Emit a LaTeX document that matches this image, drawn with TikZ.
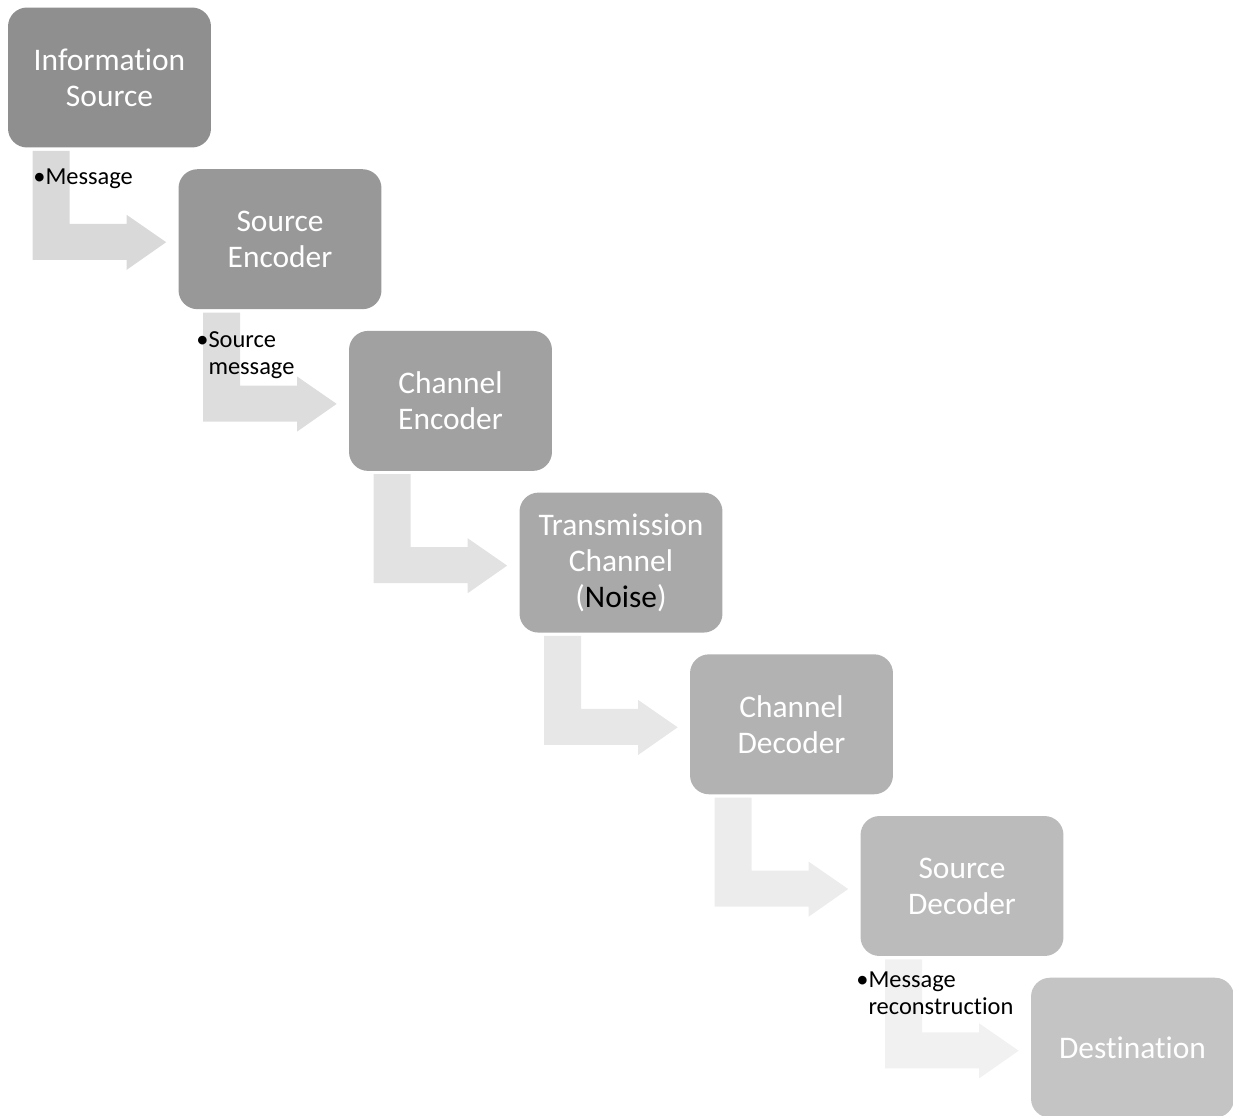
\documentclass[tikz,border=0pt]{standalone}
\usepackage{fontspec}
\setmainfont{Carlito}[Ligatures=NoCommon]
\usetikzlibrary{calc}

\definecolor{boxA}{RGB}{143,143,143}
\definecolor{boxB}{RGB}{152,152,152}
\definecolor{boxC}{RGB}{161,161,161}
\definecolor{boxD}{RGB}{169,169,169}
\definecolor{boxE}{RGB}{178,178,178}
\definecolor{boxF}{RGB}{187,187,187}
\definecolor{boxG}{RGB}{196,196,196}
\definecolor{arrA}{RGB}{217,217,217}
\definecolor{arrB}{RGB}{221,221,221}
\definecolor{arrC}{RGB}{226,226,226}
\definecolor{arrD}{RGB}{231,231,231}
\definecolor{arrE}{RGB}{236,236,236}
\definecolor{arrF}{RGB}{241,241,241}

\tikzset{
    block/.style={rounded corners=0.38cm, minimum width=4.06cm, minimum height=2.8cm,
        align=center, text=white, inner sep=0pt,
        font=\fontsize{17.9}{20.4}\selectfont},
    tag/.style={anchor=north west, inner sep=0pt, text=black,
        font=\fontsize{13.9}{15.5}\selectfont}
}

\begin{document}
\begin{tikzpicture}[x=0.02cm, y=-0.02cm]
            \useasboundingbox (0,0) rectangle (1233,1115);

            % the blocks, one step down and right each
            \node[block, fill=boxA] (infosrc) at (109.5,77.5) {Information\\Source};
            \node[block, fill=boxB] (srcenc) at (280,239.2) {Source\\Encoder};
            \node[block, fill=boxC] (chenc) at (450.5,400.9) {Channel\\Encoder};
            \node[block, fill=boxD] (trans) at (621,562.6) {Transmission\\Channel\\(\textcolor{black}{Noise})};
            \node[block, fill=boxE] (chdec) at (791.5,724.3) {Channel\\Decoder};
            \node[block, fill=boxF] (srcdec) at (962,886) {Source\\Decoder};
            \node[block, fill=boxG] (dest) at (1132.5,1047.7) {Destination};

            % bent arrows between the blocks
            \foreach \src/\dst/\shade in {infosrc/srcenc/arrA, srcenc/chenc/arrB, chenc/trans/arrC,
                trans/chdec/arrD, chdec/srcdec/arrE, srcdec/dest/arrF}
                {
                    \fill[\shade] ($(\src.south west)+(25,3)$) -- ($(\src.south west)+(62,3)$)
                        -- ($(\src.south west)+(62,76)$) -- ($(\src.south west)+(119,76)$)
                        -- ($(\src.south west)+(119,67)$) -- ($(\dst.west)+(-12,3)$)
                        -- ($(\src.south west)+(119,122)$) -- ($(\src.south west)+(119,112)$)
                        -- ($(\src.south west)+(25,112)$) -- cycle;
                }

            % bullet texts on the arrows
            \node[tag] (msg) at (33,168) {\textbullet Message};
            \node[tag] (srcmsg) at (196,328) {\begin{tabular}{@{}l@{}l@{}}\textbullet&Source\\&message\end{tabular}};
            \node[tag] (recon) at (856,968) {\begin{tabular}{@{}l@{}l@{}}\textbullet&Message\\&reconstruction\end{tabular}};
        \end{tikzpicture}
\end{document}
